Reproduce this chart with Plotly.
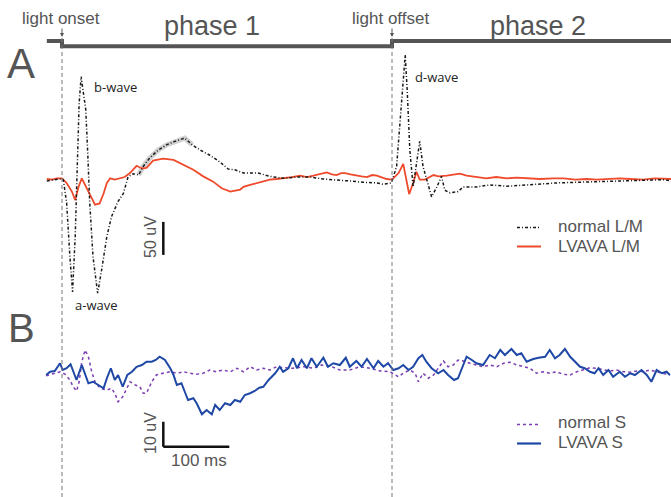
import plotly.graph_objects as go

# ---------------- data (time in ms relative to light onset, amplitude in uV) -------------
ONSET_MS = 0
OFFSET_MS = 500

# Panel A: normal L/M (black dash-dot)
normal_lm_t = [-23, -3, 2, 7, 12, 16, 20, 23, 26, 29, 32, 36, 39, 42, 47, 54, 60, 68, 75, 85,
               93, 100, 108, 116, 123, 133, 146, 159, 171, 186, 197, 209, 224, 239, 252, 262,
               275, 297, 315, 335, 356, 376, 396, 416, 436, 456, 477, 487, 499, 507, 512, 517,
               520, 523, 527, 532, 537, 542, 547, 555, 560, 568, 575, 580, 588, 600, 608, 628,
               648, 674, 699, 724, 749, 780, 810, 835, 860, 885, 911, 923]
normal_lm_v = [0, 3, 2, -33, -115, -168, -84, 17, 118, 158, 138, 108, 42, -33, -115, -170, -135,
               -84, -54, -31, -19, 6, 11, 9, 22, 35, 47, 55, 60, 65, 55, 47, 39, 29, 18, 17,
               12, 12, 7, 4, 6, 6, 3, 2, 0, -2, -3, -5, -3, 22, 87, 163, 191, 138, 47, -9, 22,
               60, 22, -9, -24, -9, 7, -14, -18, -16, -9, -9, -6, -8, -6, -5, -3, -2, -1, 0,
               0, 1, 2, 0]

# Panel A: LVAVA L/M (red)
lvava_lm_t = [-23, -15, -8, 0, 7, 15, 20, 25, 30, 35, 40, 45, 50, 57, 63, 68, 73, 80, 88, 95,
              103, 113, 121, 128, 138, 153, 169, 184, 199, 214, 229, 242, 255, 270, 275, 285,
              295, 305, 315, 325, 335, 348, 361, 371, 381, 391, 401, 409, 416, 423, 429, 437,
              446, 454, 462, 470, 477, 485, 492, 500, 510, 517, 522, 526, 532, 537, 542, 550,
              563, 570, 583, 593, 603, 613, 623, 633, 643, 658, 674, 689, 704, 724, 744, 760,
              778, 795, 810, 828, 845, 861, 880, 898, 916, 923]
lvava_lm_v = [3, 2, 4, 4, -3, -16, -29, -9, 4, -6, -16, -26, -36, -34, -19, -3, 4, 2, 4, 6,
              12, 23, 19, 20, 31, 34, 32, 24, 17, 7, -1, -11, -16, -13, -9, -6, -3, -1, 2, 3,
              4, 6, 8, 6, 8, 10, 13, 10, 9, 12, 12, 10, 9, 7, 6, 9, 8, 5, 3, 2, 12, 26, 2, -20,
              -3, 14, 2, 2, 9, 7, 8, 10, 11, 8, 7, 5, 4, 6, 4, 5, 4, 3, 4, 4, 2, 3, 2, 3, 4,
              3, 2, 4, 4, 3]

# Panel B: normal S (purple dotted)
normal_s_t = [-24, -13, -3, 5, 12, 17, 22, 26, 30, 35, 40, 45, 50, 58, 68, 75, 80, 85, 92, 97,
              103, 111, 118, 123, 128, 136, 143, 153, 164, 174, 184, 194, 204, 214, 224, 234,
              244, 255, 265, 275, 285, 295, 305, 315, 325, 335, 350, 366, 381, 393, 409, 421,
              436, 451, 467, 482, 497, 510, 517, 527, 535, 540, 547, 555, 563, 570, 578, 585,
              593, 600, 608, 618, 628, 638, 648, 659, 669, 679, 689, 699, 709, 719, 729, 739,
              749, 759, 770, 780, 790, 800, 810, 820, 830, 840, 851, 861, 871, 881, 891, 901,
              911, 921]
normal_s_v = [-1.1, -0.1, 0.5, -0.5, -2.8, -5.5, -7.2, -3.5, 4.5, 9.2, 6.5, 0.5, -3.5, -6.1,
              -6.8, -6.1, -8.1, -11.5, -9.5, -6.8, -3.5, -4.8, -5.5, -8.1, -8.1, -3.5, -0.8,
              -0.1, 0.5, -0.1, 0.5, -0.1, -0.5, -0.1, 1.2, 0.5, 1.2, 0.5, 1.9, 0.5, 2.5, 1.2,
              1.9, 1.2, 2.5, 2.1, 1.9, 2.5, 1.9, 3.2, 2.5, 1.2, 1.2, 2.5, 1.9, 0.8, 0.5, -1.5,
              -0.1, 1.2, -0.1, -3.5, -0.1, -2.1, -0.8, 1.9, 4.8, 2.5, 3.2, 5.2, 4.8, 3.9, 3.2,
              2.5, 3.2, 2.5, 3.9, 4.3, 3.2, 2.5, 1.9, -0.1, 0.5, -0.1, 0.5, -0.5, -0.8, 0.5,
              1.2, 2.1, 1.9, 1.2, 0.8, 1.2, 0.5, 0.3, 0.8, 0.5, 1.2, 0.5, -0.1, -0.8]

# Panel B: LVAVA S (blue)
lvava_s_t = [-24, -18, -11, -3, 1, 7, 13, 17, 22, 30, 35, 40, 47, 55, 63, 68, 74, 80, 85, 92,
             99, 106, 113, 121, 128, 136, 142, 148, 156, 164, 169, 174, 181, 186, 191, 199,
             204, 212, 219, 227, 232, 239, 247, 255, 262, 270, 277, 285, 292, 299, 305, 313,
             323, 330, 335, 343, 350, 356, 363, 371, 378, 386, 396, 403, 411, 421, 430, 436,
             446, 454, 462, 472, 479, 487, 494, 502, 510, 517, 525, 532, 540, 546, 552, 560,
             570, 578, 585, 594, 600, 606, 613, 621, 628, 638, 648, 656, 664, 671, 681, 689,
             696, 704, 714, 722, 732, 739, 747, 754, 762, 770, 777, 785, 792, 800, 807, 813,
             820, 828, 835, 845, 853, 861, 868, 878, 886, 893, 901, 909, 916, 921]
lvava_s_v = [-0.8, 0.5, 0.8, 3.9, 1.2, 1.9, 3.5, 0.5, -2.8, 3.2, -0.8, -4.1, -3.5, -4.8, -6.1,
             -2.1, 1.9, -2.8, -0.8, -5.5, -0.8, 0.5, 2.5, 3.2, 4.5, 4.5, 5.2, 6.5, 5.2, 1.9,
             -0.8, -4.8, -4.1, -7.5, -10.8, -10.1, -12.1, -16.5, -14.8, -16.5, -12.8, -14.8,
             -12.1, -12.8, -10.8, -11.5, -8.8, -8.1, -7.2, -5.9, -5.5, -2.8, -0.1, 2.5, 0.5,
             1.9, 5.9, 1.9, 5.2, 1.9, 5.9, 2.5, 6.1, 2.5, 3.9, 3.2, 6.1, 2.5, 4.8, 2.5, 5.6,
             1.9, 4.8, 2.5, 3.9, 1.2, 1.9, 3.2, 1.2, 2.5, 5.9, 7.2, 4.5, 1.9, -0.1, 1.2, -0.8,
             -2.8, -2.1, 1.9, 6.5, 5.2, 3.9, 3.2, 7.2, 5.9, 9.2, 7.2, 9.6, 7.2, 7.9, 4.5, 5.6,
             6.1, 6.5, 9.2, 5.9, 7.2, 9.6, 6.5, 4.5, 2.5, 1.9, 0.5, -0.1, 1.9, -0.8, 1.2, -1.5,
             0.5, -1.5, -0.1, -0.8, 1.2, -0.8, -3.5, 1.2, -0.1, 0.5, -0.8]

# stimulus monitor trace (light off = 1, light on = 0)
stim_t = [-23, 0, 0, 500, 500, 923]
stim_state = [1, 1, 0, 0, 1, 1]

# scale bars
SCALE_A_UV = 50
SCALE_B_UV = 10
SCALE_MS = 100

# ---------------- styling ----------------
GREY = "#555555"
FONT = "Liberation Sans, Arial, sans-serif"
W, H = 671, 497

# axis ranges chosen so that 0.66 px = 1 ms / 1 uV (panel A) and 2.5 px = 1 uV (panel B)
X_RANGE = [-93.94, 922.73]
YA_RANGE = [-478.8, 274.2]
YB_RANGE = [-49.6, 149.2]

def px(x):
    return x / W

def py(y):
    return 1 - y / H

fig = go.Figure()

# SEM-like grey shading under the normal L/M peak
band_t = [t for t in normal_lm_t if 110 <= t <= 200]
band_v = [v for t, v in zip(normal_lm_t, normal_lm_v) if 110 <= t <= 200]
fig.add_trace(go.Scatter(x=band_t, y=band_v, mode="lines", yaxis="y",
                         line=dict(color="rgba(170,170,170,0.55)", width=5),
                         hoverinfo="skip", showlegend=False))

fig.add_trace(go.Scatter(x=lvava_lm_t, y=lvava_lm_v, mode="lines", name="LVAVA L/M", yaxis="y",
                         line=dict(color="#ef4a2b", width=1.8), showlegend=False))
fig.add_trace(go.Scatter(x=normal_lm_t, y=normal_lm_v, mode="lines", name="normal L/M", yaxis="y",
                         line=dict(color="#1a1a1a", width=1.5, dash="3px,2px,1px,2px"),
                         showlegend=False))

fig.add_trace(go.Scatter(x=normal_s_t, y=normal_s_v, mode="lines", name="normal S", yaxis="y2",
                         line=dict(color="#7b3fb3", width=1.5, dash="dot"), showlegend=False))
fig.add_trace(go.Scatter(x=lvava_s_t, y=lvava_s_v, mode="lines", name="LVAVA S", yaxis="y2",
                         line=dict(color="#1f48a6", width=2), showlegend=False))

# stimulus trace on panel A axis (levels at top of figure)
STIM_HIGH, STIM_LOW = 212, 204
fig.add_trace(go.Scatter(x=stim_t, y=[STIM_HIGH if s else STIM_LOW for s in stim_state],
                         mode="lines", yaxis="y", line=dict(color=GREY, width=4),
                         hoverinfo="skip", showlegend=False))

shapes = []
# dashed event lines at light onset / offset
for t in (ONSET_MS, OFFSET_MS):
    shapes.append(dict(type="line", xref="x", yref="paper", x0=t, x1=t, y0=0, y1=py(37),
                       line=dict(color="#777777", width=1, dash="4px,3px")))

# scale bars
SB_T = 153.5
SB_A_BOTTOM = -112
shapes.append(dict(type="line", xref="x", yref="y", x0=SB_T, x1=SB_T,
                   y0=SB_A_BOTTOM, y1=SB_A_BOTTOM + SCALE_A_UV,
                   line=dict(color="#111111", width=2.5)))
SB_B_BOTTOM = -29.5
shapes.append(dict(type="line", xref="x", yref="y2", x0=SB_T, x1=SB_T,
                   y0=SB_B_BOTTOM, y1=SB_B_BOTTOM + SCALE_B_UV,
                   line=dict(color="#111111", width=2.5)))
shapes.append(dict(type="line", xref="x", yref="y2", x0=SB_T, x1=SB_T + SCALE_MS,
                   y0=SB_B_BOTTOM, y1=SB_B_BOTTOM,
                   line=dict(color="#111111", width=2.5)))

# legend samples
shapes.append(dict(type="line", xref="paper", yref="paper", x0=px(517), x1=px(541),
                   y0=py(227.5), y1=py(227.5),
                   line=dict(color="#1a1a1a", width=1.5, dash="3px,2px,1px,2px")))
shapes.append(dict(type="line", xref="paper", yref="paper", x0=px(517), x1=px(541),
                   y0=py(246.5), y1=py(246.5), line=dict(color="#ef4a2b", width=2)))
shapes.append(dict(type="line", xref="paper", yref="paper", x0=px(517), x1=px(541),
                   y0=py(424.5), y1=py(424.5),
                   line=dict(color="#7b3fb3", width=1.5, dash="dot")))
shapes.append(dict(type="line", xref="paper", yref="paper", x0=px(517), x1=px(541),
                   y0=py(443.5), y1=py(443.5), line=dict(color="#1f48a6", width=2.2)))

def txt(x, y, s, size, color=GREY, family=FONT, xanchor="center", angle=0):
    return dict(x=px(x), y=py(y), xref="paper", yref="paper", text=s, showarrow=False,
                xanchor=xanchor, yanchor="middle", textangle=angle,
                font=dict(size=size, color=color, family=family))

annotations = [
    txt(61, 18, "light onset", 17),
    txt(390, 18, "light offset", 17),
    txt(212, 26, "phase 1", 27),
    txt(538, 26, "phase 2", 27),
    txt(21, 64, "A", 42),
    txt(21, 328, "B", 40),
    txt(92, 87, "b-wave", 13, color="#222222", family="Open Sans, sans-serif", xanchor="left"),
    txt(73, 305, "a-wave", 13, color="#222222", family="Open Sans, sans-serif", xanchor="left"),
    txt(413, 77, "d-wave", 13, color="#222222", family="Open Sans, sans-serif", xanchor="left"),
    txt(150, 237, "50 uV", 16, angle=-90),
    txt(150, 433, "10 uV", 16, angle=-90),
    txt(199, 460, "100 ms", 17),
    txt(556, 226, "normal L/M", 17, xanchor="left"),
    txt(556, 246, "LVAVA L/M", 17, xanchor="left"),
    txt(556, 422, "normal S", 17, xanchor="left"),
    txt(556, 442, "LVAVA S", 17, xanchor="left"),
]
# arrows marking onset / offset
for t in (ONSET_MS, OFFSET_MS):
    annotations.append(dict(x=t, y=py(37), xref="x", yref="paper", ax=0, ay=-10,
                            axref="pixel", ayref="pixel", text="", showarrow=True,
                            arrowhead=2, arrowsize=0.8, arrowwidth=1, arrowcolor=GREY))

fig.update_layout(
    width=W, height=H, margin=dict(l=0, r=0, t=0, b=0),
    paper_bgcolor="white", plot_bgcolor="white",
    xaxis=dict(range=X_RANGE, visible=False, fixedrange=True),
    yaxis=dict(range=YA_RANGE, visible=False, fixedrange=True),
    yaxis2=dict(range=YB_RANGE, visible=False, overlaying="y", fixedrange=True),
    shapes=shapes, annotations=annotations, showlegend=False,
)

fig.write_html("out.html")
